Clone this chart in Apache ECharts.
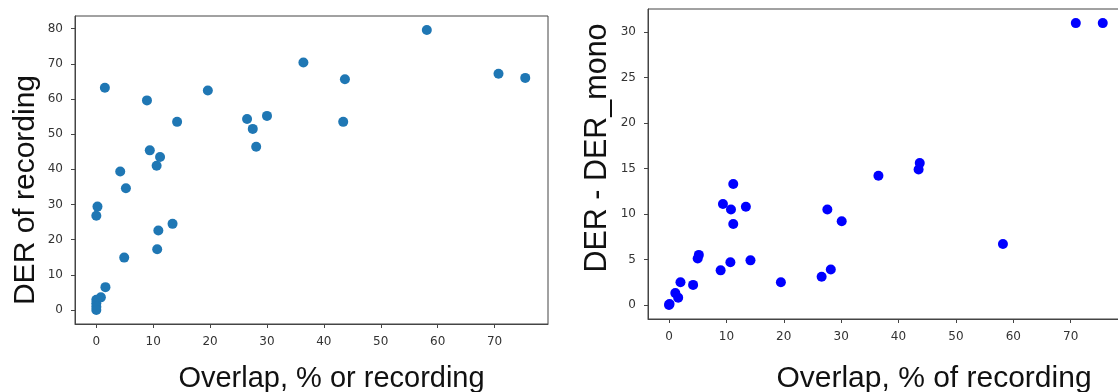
<!DOCTYPE html>
<html>
<head>
<meta charset="utf-8">
<script src="https://cdn.jsdelivr.net/npm/echarts@6/dist/echarts.min.js"></script>
<style>
  html, body { margin: 0; padding: 0; background: #fff; }
  #chart { width: 1118px; height: 392px; }
</style>
</head>
<body>
<div id="chart"></div>
<script>
// left panel: overlap vs DER of recording
const overlapA = [1.5, 8.9, 14.2, 19.6, 26.5, 27.5, 28.1, 30.0, 9.4, 11.2, 10.6, 4.2, 5.2,
  36.4, 43.7, 43.4, 58.1, 70.7, 75.4, 0.2, 0.0, 10.9, 13.4, 10.7, 4.9, 1.6, 0.8,
  0.0, 0.0, 0.0, 0.0];
const derA = [63.2, 59.6, 53.5, 62.4, 54.3, 51.5, 46.4, 55.2, 45.4, 43.5, 41.0, 39.4, 34.6,
  70.4, 65.6, 53.5, 79.6, 67.2, 66.0, 29.4, 26.8, 22.6, 24.5, 17.3, 14.9, 6.5, 3.6,
  2.9, 1.9, 0.9, 0.0];

// right panel: overlap vs DER - DER_mono
const overlapB = [11.2, 70.9, 75.6, 43.7, 43.5, 36.5, 9.4, 10.8, 13.4, 11.2, 27.6, 30.1,
  5.2, 5.0, 10.7, 14.2, 9.0, 28.2, 26.6, 19.5, 2.0, 4.2, 1.1, 1.6, 58.2, 0.1, 0.0];
const diffB = [13.3, 31.0, 31.0, 15.6, 14.9, 14.2, 11.1, 10.5, 10.8, 8.9, 10.5, 9.2,
  5.5, 5.1, 4.7, 4.9, 3.8, 3.9, 3.1, 2.5, 2.5, 2.2, 1.3, 0.8, 6.7, 0.1, 0.0];

const xTicks = [0, 10, 20, 30, 40, 50, 60, 70];
const yTicksA = [0, 10, 20, 30, 40, 50, 60, 70, 80];
const yTicksB = [0, 5, 10, 15, 20, 25, 30];

const lineColor = '#444';
const tickFont = { fontFamily: 'DejaVu Sans', fontSize: 12, color: '#333' };
const nameFont = { fontFamily: 'Liberation Sans', color: '#111' };

// common axis look, matplotlib-ish
const axisBase = (ticks) => ({
  type: 'value',
  splitLine: { show: false },
  axisLine: { show: true, onZero: false, lineStyle: { color: lineColor, width: 1 } },
  axisTick: { show: true, length: 4, customValues: ticks, lineStyle: { color: lineColor } },
  axisLabel: Object.assign({ customValues: ticks, margin: 12 }, tickFont),
});

const chart = echarts.init(document.getElementById('chart'));

const option = {
  animation: false,
  grid: [
    { left: 75, top: 16, width: 473, height: 308, outerBoundsMode: 'none', containLabel: false,
      show: true, borderColor: lineColor, borderWidth: 1 },
    { left: 648, top: 9, width: 476, height: 310, outerBoundsMode: 'none', containLabel: false,
      show: true, borderColor: lineColor, borderWidth: 1 },
  ],
  xAxis: [
    Object.assign(axisBase(xTicks), {
      gridIndex: 0, min: -3.75, max: 79.4,
      name: 'Overlap, % or recording', nameLocation: 'middle', nameGap: 40,
      nameTextStyle: Object.assign({ fontSize: 29, padding: [0, 0, 0, 40] }, nameFont),
    }),
    Object.assign(axisBase(xTicks), {
      gridIndex: 1, min: -3.66, max: 79.3,
      name: 'Overlap, % of recording', nameLocation: 'middle', nameGap: 45,
      nameTextStyle: Object.assign({ fontSize: 30, padding: [0, 0, 0, 96] }, nameFont),
    }),
  ],
  yAxis: [
    Object.assign(axisBase(yTicksA), {
      gridIndex: 0, min: -3.98, max: 83.6,
      name: 'DER of recording', nameLocation: 'middle', nameGap: 34,
      nameTextStyle: Object.assign({ fontSize: 30, padding: [0, 40, 0, 0] }, nameFont),
    }),
    Object.assign(axisBase(yTicksB), {
      gridIndex: 1, min: -1.55, max: 32.55,
      name: 'DER - DER_mono', nameLocation: 'middle', nameGap: 35,
      nameTextStyle: Object.assign({ fontSize: 30.5, padding: [0, 0, 0, 32] }, nameFont),
    }),
  ],
  series: [
    {
      type: 'scatter', xAxisIndex: 0, yAxisIndex: 0,
      symbolSize: 10,
      itemStyle: { color: '#1f77b4', opacity: 1 },
      data: overlapA.map((x, i) => [x, derA[i]]),
    },
    {
      type: 'scatter', xAxisIndex: 1, yAxisIndex: 1,
      symbolSize: 10,
      itemStyle: { color: '#0000ff', opacity: 1 },
      data: overlapB.map((x, i) => [x, diffB[i]]),
    },
  ],
};

chart.setOption(option);
</script>
</body>
</html>
